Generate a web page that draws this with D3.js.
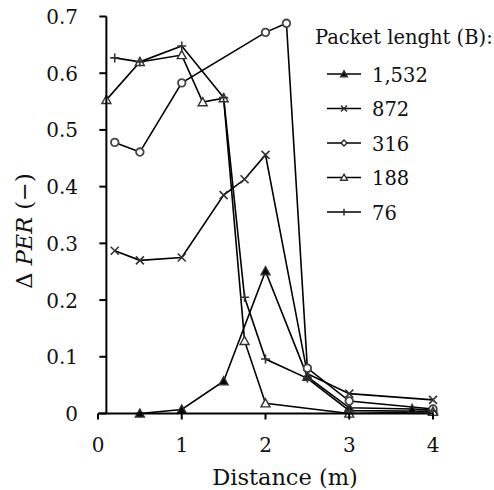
<!DOCTYPE html>
<html>
<head>
<meta charset="utf-8">
<script src="https://cdn.jsdelivr.net/npm/d3@7"></script>
<style>
  body { margin: 0; background: #fff; }
  svg text { font-family: "DejaVu Serif", serif; }
</style>
</head>
<body>
<div id="chart-container"></div>
<script>
// Distances (m) and delta PER per packet length
const seriesNames = ["1,532", "872", "316", "188", "76"];
const dist1532 = [0.5, 1, 1.5, 2, 2.5, 3, 3.75, 4];
const per1532 = [0.0, 0.007, 0.057, 0.251, 0.065, 0.01, 0.008, 0.006];
const dist872 = [0.2, 0.5, 1, 1.5, 1.75, 2, 2.5, 3, 4];
const per872 = [0.287, 0.27, 0.275, 0.385, 0.413, 0.456, 0.07, 0.035, 0.024];
const dist316 = [0.2, 0.5, 1, 2, 2.25, 2.5, 3, 4];
const per316 = [0.478, 0.461, 0.583, 0.672, 0.688, 0.08, 0.022, 0.008];
const dist188 = [0.1, 0.5, 1, 1.25, 1.5, 1.75, 2, 3, 4];
const per188 = [0.553, 0.62, 0.632, 0.549, 0.556, 0.128, 0.018, 0.0, 0.003];
const dist76 = [0.2, 0.5, 1, 1.5, 1.75, 2, 2.5, 3, 4];
const per76 = [0.627, 0.62, 0.648, 0.557, 0.205, 0.096, 0.062, 0.005, 0.004];
const xTicks = [0, 1, 2, 3, 4];
const yTicks = [0, 0.1, 0.2, 0.3, 0.4, 0.5, 0.6, 0.7];

const width = 494, height = 490;

const svg = d3.select("#chart-container")
    .append("svg")
    .attr("width", width)
    .attr("height", height);

const x = d3.scaleLinear().domain([0, 4]).range([98, 433]);
const y = d3.scaleLinear().domain([0, 0.7]).range([413.5, 16.5]);

const toPoints = (xs, ys) => xs.map((d, i) => ({ x: d, y: ys[i] }));
const series = [
    { name: seriesNames[0], marker: "triUp", data: toPoints(dist1532, per1532) },
    { name: seriesNames[1], marker: "cross", data: toPoints(dist872, per872) },
    { name: seriesNames[2], marker: "diamond", data: toPoints(dist316, per316) },
    { name: seriesNames[3], marker: "triOpen", data: toPoints(dist188, per188) },
    { name: seriesNames[4], marker: "plus", data: toPoints(dist76, per76) }
];

// draws a marker into g at (cx, cy); s = scale
function drawMarker(g, type, cx, cy, s, inPlot) {
    const m = g.append("g").attr("transform", `translate(${cx},${cy})`);
    if (type === "triUp" || type === "triOpen") {
        const h = 4.5 * s;
        m.append("path")
            .attr("d", `M0,${-h} L${h},${h * 0.8} L${-h},${h * 0.8} Z`)
            .attr("fill", type === "triUp" ? "#000" : "#fff")
            .attr("stroke", "#333")
            .attr("stroke-width", 1.4);
    } else if (type === "cross") {
        const h = 4 * s;
        m.append("path")
            .attr("d", `M${-h},${-h} L${h},${h} M${-h},${h} L${h},${-h}`)
            .attr("stroke", "#333")
            .attr("stroke-width", 1.6);
    } else if (type === "diamond") {
        if (inPlot) {
            m.append("circle").attr("r", 3.8)
                .attr("fill", "#fff").attr("stroke", "#444").attr("stroke-width", 1.8);
        } else {
            const h = 4 * s;
            m.append("path")
                .attr("d", `M0,${-h} L${h},0 L0,${h} L${-h},0 Z`)
                .attr("fill", "#fff").attr("stroke", "#222").attr("stroke-width", 1.4);
        }
    } else if (type === "plus") {
        const h = 4.5 * s;
        m.append("path")
            .attr("d", `M${-h},0 L${h},0 M0,${-h} L0,${h}`)
            .attr("stroke", "#333")
            .attr("stroke-width", 1.6);
    }
}

// Lines
const line = d3.line().x(d => x(d.x)).y(d => y(d.y));
series.forEach(s => {
    svg.append("path")
        .datum(s.data)
        .attr("fill", "none")
        .attr("stroke", "#000")
        .attr("stroke-width", 1.6)
        .attr("d", line);
});
series.forEach(s => {
    const g = svg.append("g");
    s.data.forEach(d => drawMarker(g, s.marker, x(d.x), y(d.y), 1, true));
});

// Axes (y axis crosses at x = 0.1)
const yAxisX = x(0.1);
svg.append("line")
    .attr("x1", yAxisX).attr("x2", yAxisX)
    .attr("y1", y(0.7)).attr("y2", y(0))
    .attr("stroke", "#000").attr("stroke-width", 2);
svg.append("line")
    .attr("x1", x(0)).attr("x2", x(4))
    .attr("y1", y(0)).attr("y2", y(0))
    .attr("stroke", "#000").attr("stroke-width", 2);

yTicks.forEach(t => {
    svg.append("line")
        .attr("x1", yAxisX - 7).attr("x2", yAxisX)
        .attr("y1", y(t)).attr("y2", y(t))
        .attr("stroke", "#000").attr("stroke-width", 2);
    svg.append("text")
        .attr("x", 78)
        .attr("y", y(t) + 7.5)
        .attr("text-anchor", "end")
        .attr("fill", "#111")
        .style("font-size", "20px")
        .text(t === 0 ? "0" : d3.format(".1f")(t));
});

xTicks.forEach(t => {
    svg.append("line")
        .attr("x1", x(t)).attr("x2", x(t))
        .attr("y1", y(0)).attr("y2", y(0) + 6)
        .attr("stroke", "#000").attr("stroke-width", 2);
    svg.append("text")
        .attr("x", x(t))
        .attr("y", 452)
        .attr("text-anchor", "middle")
        .attr("fill", "#111")
        .style("font-size", "20px")
        .text(t);
});

// Axis titles
svg.append("text")
    .attr("x", 285)
    .attr("y", 485)
    .attr("text-anchor", "middle")
    .attr("fill", "#111")
    .style("font-size", "22.5px")
    .text("Distance (m)");

const yTitle = svg.append("text")
    .attr("transform", "translate(32,231) rotate(-90)")
    .attr("text-anchor", "middle")
    .attr("fill", "#111")
    .style("font-size", "22.5px");
yTitle.append("tspan").text("Δ ");
yTitle.append("tspan").style("font-style", "italic").text("PER");
yTitle.append("tspan").text(" (−)");

// Legend
svg.append("text")
    .attr("x", 315)
    .attr("y", 44)
    .attr("fill", "#111")
    .style("font-size", "19.5px")
    .text("Packet lenght (B):");

series.forEach((s, i) => {
    const cy = 74 + i * 34.5;
    svg.append("line")
        .attr("x1", 327).attr("x2", 361)
        .attr("y1", cy).attr("y2", cy)
        .attr("stroke", "#000").attr("stroke-width", 1.6);
    drawMarker(svg, s.marker, 344, cy, 0.75, false);
    svg.append("text")
        .attr("x", 372)
        .attr("y", cy + 7.5)
        .attr("fill", "#111")
        .style("font-size", "19.5px")
        .text(s.name);
});
</script>
</body>
</html>
